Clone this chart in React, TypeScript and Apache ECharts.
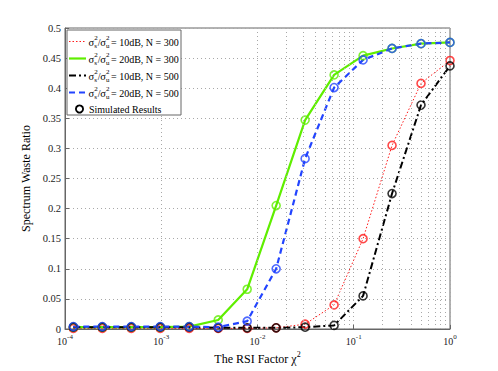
import React, { useEffect, useRef } from "react";
import * as echarts from "echarts";

// x positions: chi^2 = 2^-13 ... 2^0
const xs = [0.00012207, 0.00024414, 0.00048828, 0.00097656, 0.0019531, 0.0039063, 0.0078125, 0.015625, 0.03125, 0.0625, 0.125, 0.25, 0.5, 1];

const red10dB300 = [0.001, 0.001, 0.001, 0.001, 0.001, 0.001, 0.001, 0.002, 0.008, 0.040, 0.150, 0.305, 0.408, 0.446];
const green20dB300 = [0.003, 0.003, 0.003, 0.003, 0.004, 0.015, 0.066, 0.205, 0.347, 0.422, 0.454, 0.466, 0.474, 0.476];
const black10dB500 = [0.003, 0.003, 0.003, 0.003, 0.003, 0.002, 0.002, 0.002, 0.003, 0.006, 0.055, 0.225, 0.372, 0.437];
const blue20dB500 = [0.004, 0.004, 0.004, 0.004, 0.004, 0.003, 0.013, 0.100, 0.283, 0.401, 0.447, 0.466, 0.474, 0.476];

const seriesNames = ["10dB, N = 300", "20dB, N = 300", "10dB, N = 500", "20dB, N = 500"];
const xTickExponents = ["-4", "-3", "-2", "-1", "0"];

const FONT = "'Liberation Serif', 'Times New Roman', serif";
const RED = "#ff1a1a";
const GREEN = "#5fee00";
const BLACK = "#000000";
const BLUE = "#2244ff";
const GRID = "#a8a8a8";

const styles = [
  { color: RED, width: 1, type: [1.5, 2] as any },
  { color: GREEN, width: 2.2, type: "solid" as any },
  { color: BLACK, width: 2, type: [7, 3, 2, 3] as any },
  { color: BLUE, width: 2.2, type: [6, 4] as any },
];
const dataSets = [red10dB300, green20dB300, black10dB500, blue20dB500];

export default function App() {
  const ref = useRef<HTMLDivElement>(null);
  useEffect(() => {
    if (!ref.current) return;
    const chart = echarts.init(ref.current, undefined, { renderer: "svg" });
    const pairs = (ys: number[]) => xs.map((x, i) => [x, ys[i]]);

    const minor: number[] = [];
    [1e-4, 1e-3, 1e-2, 1e-1].forEach((d) => {
      for (let k = 2; k <= 9; k++) minor.push(k * d);
    });

    const lineSeries = dataSets.map((ys, i) => ({
      type: "line",
      name: seriesNames[i],
      data: pairs(ys),
      symbol: "none",
      z: 2,
      lineStyle: { color: styles[i].color, width: styles[i].width, type: styles[i].type },
      silent: true,
    }));
    const markerSeries = dataSets.map((ys, i) => ({
      type: "scatter",
      name: "sim" + i,
      data: pairs(ys),
      symbol: "circle",
      symbolSize: 8,
      z: 3,
      itemStyle: { color: "rgba(0,0,0,0)", borderColor: styles[i].color, borderWidth: 1.6 },
      silent: true,
    }));

    // legend drawn as graphic
    const legendLeft = 67;
    const legendTop = 30;
    const rowY = [41.5, 58.5, 75.5, 92.5, 109];
    const legendEls: any[] = [
      {
        type: "rect",
        shape: { x: legendLeft, y: legendTop, width: 114, height: 85 },
        style: { fill: "#fff", stroke: "#666", lineWidth: 1 },
        z: 100,
      },
    ];
    const txt = (x: number, y: number, text: string, size: number) => ({
      type: "text",
      x,
      y,
      z: 101,
      style: { text, fontSize: size, fontFamily: FONT, fill: "#000", verticalAlign: "middle", align: "left" },
    });
    for (let i = 0; i < 4; i++) {
      const c = rowY[i];
      legendEls.push({
        type: "line",
        shape: { x1: 69, y1: c, x2: 86, y2: c },
        style: { stroke: styles[i].color, lineWidth: styles[i].width, lineDash: styles[i].type === "solid" ? null : styles[i].type },
        z: 101,
      });
      legendEls.push(txt(88.5, c + 0.5, "σ", 10.5));
      legendEls.push(txt(94.3, c - 3.2, "2", 7));
      legendEls.push(txt(94.3, c + 4.2, "s", 7));
      legendEls.push(txt(97.8, c + 0.5, "/", 10));
      legendEls.push(txt(100.2, c + 0.5, "σ", 10.5));
      legendEls.push(txt(106, c - 3.2, "2", 7));
      legendEls.push(txt(106, c + 4.2, "u", 7));
      legendEls.push(txt(111, c + 0.5, "= " + seriesNames[i], 10));
    }
    legendEls.push({
      type: "circle",
      shape: { cx: 79.5, cy: rowY[4], r: 3.6 },
      style: { fill: "none", stroke: "#000", lineWidth: 1.8 },
      z: 101,
    });
    legendEls.push(txt(89, rowY[4], "Simulated Results", 10));

    const gridLine = { type: [1, 3] as any, color: GRID, width: 1 };

    chart.setOption({
      animation: false,
      grid: { left: 65, right: 48, top: 28, bottom: 42, show: true, borderColor: "#666", borderWidth: 1 },
      xAxis: {
        type: "log",
        logBase: 10,
        min: 1e-4,
        max: 1,
        axisLine: { show: true, lineStyle: { color: "#666" } },
        axisTick: { show: true, inside: true, length: 4, lineStyle: { color: "#666" } },
        splitLine: { show: true, lineStyle: gridLine },
        axisLabel: {
          margin: 4,
          formatter: (v: number) => {
            const e = Math.round(Math.log10(v));
            const idx = e + 4;
            return "{b|10}{s|" + xTickExponents[idx] + "}";
          },
          rich: {
            b: { fontFamily: FONT, fontSize: 10, color: "#222" },
            s: { fontFamily: FONT, fontSize: 7, color: "#222", padding: [0, 0, 9, 0] },
          },
        },
        name: "{t|The RSI Factor χ}{s|2}",
        nameLocation: "middle",
        nameGap: 16,
        nameTextStyle: {
          rich: {
            t: { fontFamily: FONT, fontSize: 12, color: "#000" },
            s: { fontFamily: FONT, fontSize: 8, color: "#000", padding: [0, 0, 9, 0] },
          },
        },
      },
      yAxis: {
        type: "value",
        min: 0,
        max: 0.5,
        interval: 0.05,
        axisLine: { show: true, lineStyle: { color: "#666" } },
        axisTick: { show: true, inside: true, length: 4, lineStyle: { color: "#666" } },
        splitLine: { show: true, lineStyle: gridLine },
        axisLabel: { margin: 4, fontFamily: FONT, fontSize: 10.5, color: "#222" },
        name: "Spectrum Waste Ratio",
        nameLocation: "middle",
        nameGap: 24,
        nameTextStyle: { fontFamily: FONT, fontSize: 12, color: "#000" },
      },
      series: [
        {
          type: "line",
          name: "minorGrid",
          data: [],
          z: 1,
          silent: true,
          markLine: {
            silent: true,
            symbol: ["none", "none"],
            label: { show: false },
            lineStyle: gridLine,
            data: minor.map((v) => ({ xAxis: v })),
          },
        },
        ...lineSeries,
        ...markerSeries,
      ],
      graphic: legendEls,
    });
    return () => chart.dispose();
  }, []);
  return (
    <div
      ref={ref}
      style={{ position: "absolute", left: 0, top: 0, width: 498, height: 371, background: "#fff" }}
    />
  );
}
